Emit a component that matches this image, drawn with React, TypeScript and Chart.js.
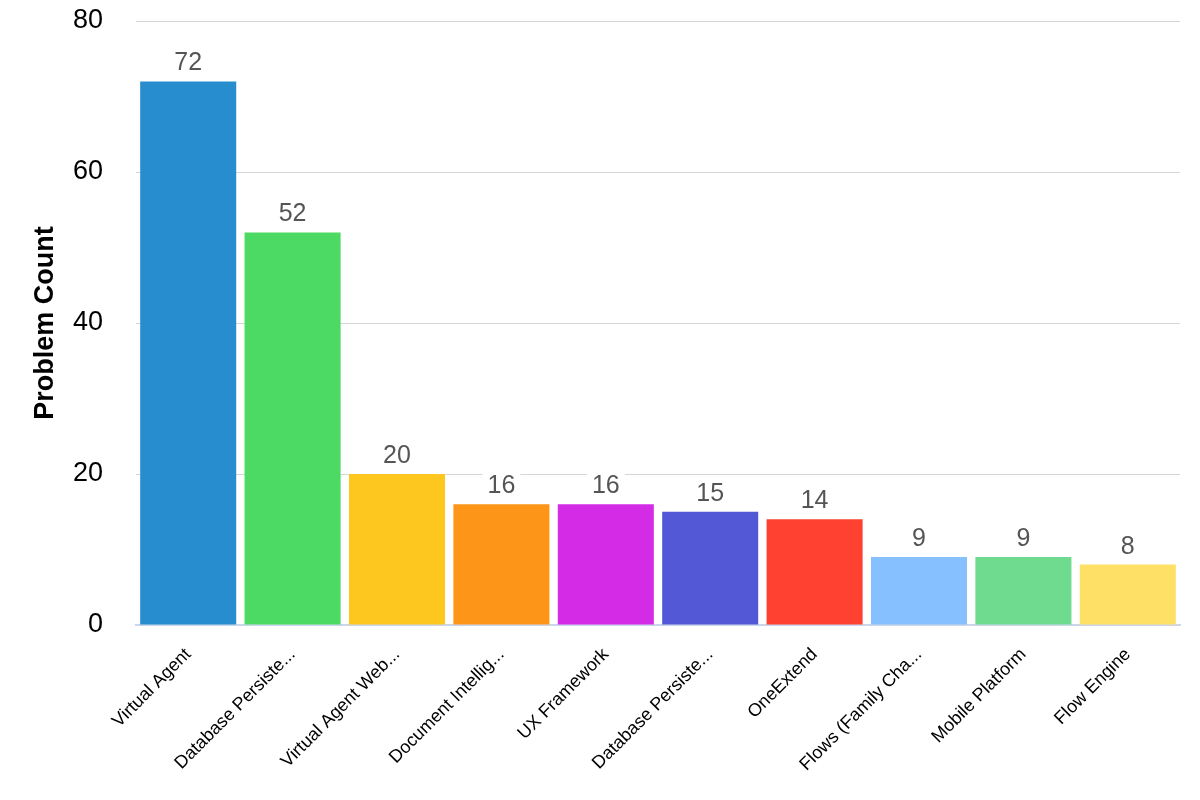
import React, { useEffect, useRef } from "react";
import { Chart, registerables } from "chart.js";

Chart.register(...registerables);

const categories = [
  "Virtual Agent",
  "Database Persiste...",
  "Virtual Agent Web...",
  "Document Intellig...",
  "UX Framework",
  "Database Persiste...",
  "OneExtend",
  "Flows (Family Cha...",
  "Mobile Platform",
  "Flow Engine",
];
const problemCounts = [72, 52, 20, 16, 16, 15, 14, 9, 9, 8];
const barColors = [
  "#278dcf",
  "#4cd964",
  "#fec720",
  "#fd9518",
  "#d42be6",
  "#5359d6",
  "#fe4130",
  "#86c0fe",
  "#6edb8f",
  "#ffe067",
];
const yTicks = [0, 20, 40, 60, 80];

const FONT = '"Liberation Sans", Arial, Helvetica, sans-serif';

const valueLabelPlugin = {
  id: "valueLabels",
  afterDatasetsDraw(chart: any) {
    const ctx = chart.ctx;
    const meta = chart.getDatasetMeta(0);
    const data = chart.data.datasets[0].data;
    ctx.save();
    ctx.font = `25px ${FONT}`;
    ctx.textAlign = "center";
    ctx.textBaseline = "alphabetic";
    meta.data.forEach((bar: any, i: number) => {
      const text = String(data[i]);
      const w = ctx.measureText(text).width;
      const baseY = bar.y - 11;
      const cap = 18;
      const padX = 5;
      ctx.fillStyle = "#ffffff";
      const rx = bar.x - w / 2 - padX;
      const ry = baseY - cap - 5;
      const rw = w + padX * 2;
      const rh = cap + 9;
      ctx.beginPath();
      if ((ctx as any).roundRect) (ctx as any).roundRect(rx, ry, rw, rh, 4);
      else ctx.rect(rx, ry, rw, rh);
      ctx.fill();
      ctx.fillStyle = "#555555";
      ctx.fillText(text, bar.x, baseY);
    });
    ctx.restore();
  },
};

export default function App() {
  const ref = useRef<HTMLCanvasElement>(null);
  useEffect(() => {
    if (!ref.current) return;
    const chart = new Chart(ref.current, {
      type: "bar",
      data: {
        labels: categories,
        datasets: [
          {
            label: "Problem Count",
            data: problemCounts,
            backgroundColor: barColors,
            borderWidth: 0,
            barPercentage: 0.92,
            categoryPercentage: 1,
          },
        ],
      },
      plugins: [valueLabelPlugin],
      options: {
        responsive: false,
        animation: false,
        layout: { padding: { top: 21, right: 20, left: 0, bottom: 0 } },
        plugins: {
          legend: { display: false },
          tooltip: { enabled: false },
        },
        scales: {
          x: {
            grid: { display: false, drawTicks: false },
            border: { display: true, color: "#ccd6eb", width: 2 },
            ticks: {
              autoSkip: false,
              maxRotation: 45,
              minRotation: 45,
              padding: 19,
              color: "#000000",
              font: { family: FONT, size: 18 },
            },
            afterFit: (scale: any) => {
              scale.height = 175;
              scale.paddingLeft = 0;
              scale.paddingRight = 0;
            },
          },
          y: {
            min: 0,
            max: 80,
            afterBuildTicks: (scale: any) => {
              scale.ticks = yTicks.map((v) => ({ value: v }));
            },
            grid: { color: "#d6d6d6", lineWidth: 1, drawTicks: false },
            border: { display: false },
            ticks: {
              padding: 33,
              color: "#000000",
              font: { family: FONT, size: 27 },
            },
            title: {
              display: true,
              text: "Problem Count",
              color: "#000000",
              font: { family: FONT, size: 27, weight: "bold" },
              padding: { top: 29, bottom: 0 },
            },
            afterFit: (scale: any) => {
              scale.width = 136;
              scale.paddingTop = 0;
              scale.paddingBottom = 0;
            },
          },
        },
      },
    });
    return () => chart.destroy();
  }, []);
  return (
    <div style={{ position: "absolute", left: 0, top: 0, width: 1200, height: 800, background: "#fff" }}>
      <canvas ref={ref} width={1200} height={800} style={{ display: "block" }} />
    </div>
  );
}
